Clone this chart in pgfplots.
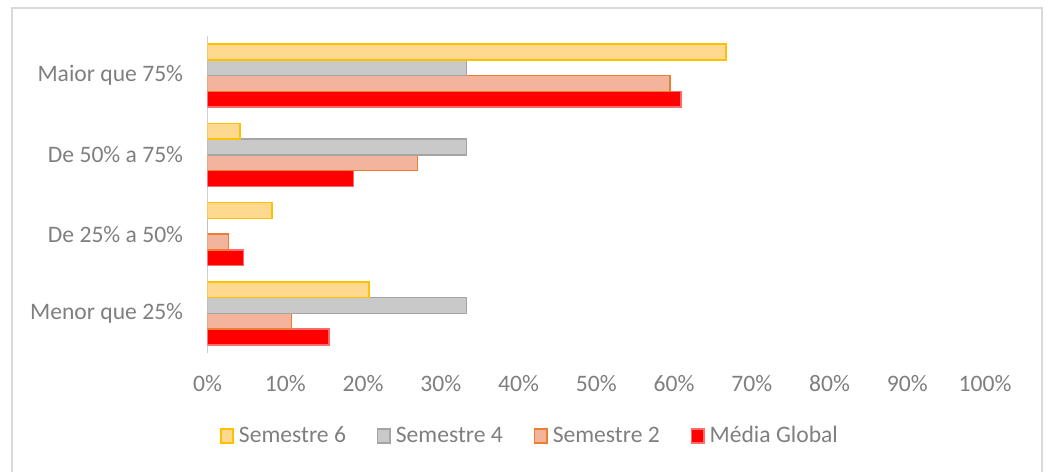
\documentclass[border=0pt]{standalone}
\usepackage{pgfplots}
\pgfplotsset{compat=1.18}
\usepackage{fontspec}
\setmainfont{Carlito}
\definecolor{txtgray}{HTML}{7F7F7F}
\definecolor{framegray}{HTML}{D9D9D9}
\definecolor{axgray}{HTML}{D0D0D0}
\definecolor{s6fill}{HTML}{FFD98F}
\definecolor{s6line}{HTML}{FFC000}
\definecolor{s4fill}{HTML}{C9C9C9}
\definecolor{s4line}{HTML}{A5A5A5}
\definecolor{s2fill}{HTML}{F4B39B}
\definecolor{s2line}{HTML}{ED7D31}
\definecolor{mfill}{HTML}{FF0000}
\definecolor{mline}{HTML}{FF6A6A}
\pgfplotsset{sqlegend/.style={legend image code/.code={\draw[##1,line width=0.75pt] (0pt,-3.4pt) rectangle (6.2pt,3.4pt);}}}
\begin{document}
\begin{tikzpicture}
\useasboundingbox (0,0) rectangle (526pt,-235.5pt);
\draw[framegray,line width=0.75pt] (6pt,-240pt) -- (6pt,-4pt) -- (521pt,-4pt) -- (521pt,-240pt);
\begin{axis}[
  at={(103.75pt,-176.5pt)}, anchor=south west,
  scale only axis, width=388.75pt, height=158.5pt,
  xmin=0, xmax=100, ymin=-0.5, ymax=3.5,
  xbar=0pt, bar width=7.9pt,
  axis lines*=left,
  x axis line style={draw=none},
  y axis line style={-,draw=axgray,line width=0.75pt},
  major tick length=0pt,
  xtick={0,10,...,100},
  xticklabels={0\%,10\%,20\%,30\%,40\%,50\%,60\%,70\%,80\%,90\%,100\%},
  ytick={0,1,2,3},
  yticklabels={Menor que 25\%,De 25\% a 50\%,De 50\% a 75\%,Maior que 75\%},
  tick label style={font=\fontsize{11.8}{14}\selectfont, text=txtgray},
  xticklabel style={anchor=center, yshift=-15.5pt},
  yticklabel style={anchor=east, inner sep=0pt, xshift=-12pt},
  legend columns=4,
  reverse legend,
  legend style={draw=none, fill=none, at={(0.4154,-0.2618)}, anchor=center,
    font=\fontsize{11.8}{14}\selectfont, text=txtgray,
    column sep=1pt,
    /tikz/every even column/.append style={column sep=14pt},
    nodes={inner sep=1.5pt}},
  legend cell align=left,
]
\addplot[fill=mfill, draw=mline, line width=0.75pt, sqlegend] coordinates {(15.6,0) (4.6,1) (18.8,2) (60.9,3)};
\addlegendentry{Média Global}
\addplot[fill=s2fill, draw=s2line, line width=0.75pt, sqlegend] coordinates {(10.8,0) (2.7,1) (27.0,2) (59.5,3)};
\addlegendentry{Semestre 2}
\addplot[fill=s4fill, draw=s4line, line width=0.75pt, sqlegend] coordinates {(33.3,0) (0,1) (33.3,2) (33.3,3)};
\addlegendentry{Semestre 4}
\addplot[fill=s6fill, draw=s6line, line width=0.75pt, sqlegend] coordinates {(20.8,0) (8.3,1) (4.2,2) (66.7,3)};
\addlegendentry{Semestre 6}
\end{axis}
\end{tikzpicture}
\end{document}
